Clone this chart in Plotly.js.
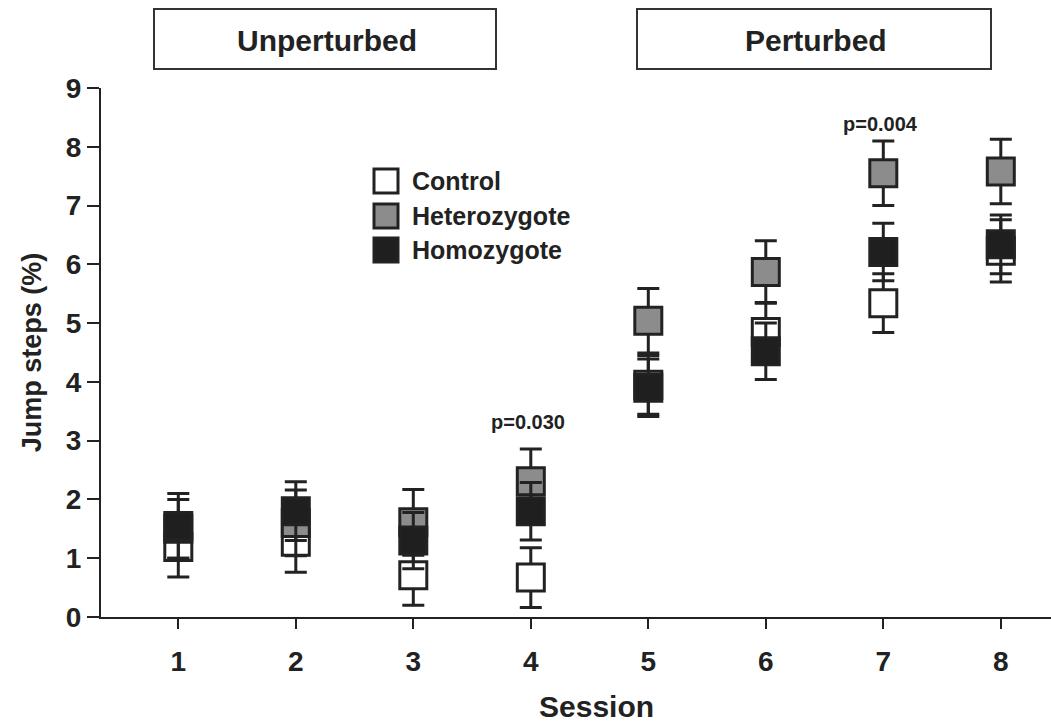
<!DOCTYPE html>
<html>
<head>
<meta charset="utf-8">
<script src="https://cdn.plot.ly/plotly-3.0.1.min.js"></script>
<style>html,body{margin:0;padding:0;background:#fff;}</style>
</head>
<body>
<div id="chart" style="width:1051px;height:727px;"></div>
<script>
// ---- data ----
const sessions = [1, 2, 3, 4, 5, 6, 7, 8];
const sessionLabels = ['1', '2', '3', '4', '5', '6', '7', '8'];
const controlMean = [1.19, 1.28, 0.71, 0.67, 3.95, 4.85, 5.34, 6.23];
const controlErr  = [0.51, 0.52, 0.51, 0.51, 0.50, 0.50, 0.50, 0.53];
const heteroMean  = [1.50, 1.60, 1.61, 2.31, 5.04, 5.87, 7.55, 7.58];
const heteroErr   = [0.50, 0.56, 0.56, 0.55, 0.55, 0.53, 0.55, 0.55];
const homoMean    = [1.55, 1.80, 1.30, 1.80, 3.90, 4.52, 6.21, 6.34];
const homoErr     = [0.55, 0.50, 0.48, 0.49, 0.49, 0.48, 0.49, 0.50];
const seriesNames = ['Control', 'Heterozygote', 'Homozygote'];
const yTicks = [0, 1, 2, 3, 4, 5, 6, 7, 8, 9];
const pValueSessions = [4, 7];
const pValueLabels = ['p=0.030', 'p=0.004'];
const pValueY = [3.31, 8.39];
const phaseLabels = ['Unperturbed', 'Perturbed'];
const xTitle = 'Session';
const yTitle = 'Jump steps (%)';

// ---- styling / geometry ----
const W = 1051, H = 727;
const M = {l: 101, r: 0, t: 88, b: 110};
const pw = W - M.l - M.r, ph = H - M.t - M.b;
const px2x = p => (p - M.l) / pw;
const px2y = p => (H - M.b - p) / ph;
const stepPx = 117.5, firstPx = 178.3;
const x0 = 1 - (firstPx - M.l) / stepPx;
const x1 = x0 + pw / stepPx;

const FONT = '"Liberation Sans", Arial, Helvetica, sans-serif';
const INK = '#222222';
const fills = ['#ffffff', '#8c8c8c', '#1f1f1f'];

function makeTrace(name, y, e, fill) {
  return {
    type: 'scatter', mode: 'markers', name: name,
    x: sessions, y: y,
    error_y: {type: 'data', array: e, visible: true, color: INK, thickness: 3, width: 11},
    marker: {symbol: 'square', size: 27, color: fill, line: {color: INK, width: 3}},
    cliponaxis: false, showlegend: false
  };
}

const data = [
  makeTrace(seriesNames[0], controlMean, controlErr, fills[0]),
  makeTrace(seriesNames[1], heteroMean, heteroErr, fills[1]),
  makeTrace(seriesNames[2], homoMean, homoErr, fills[2])
];

const shapes = [];
const annotations = [];

// phase header boxes
const phaseBoxes = [[154, 9, 496, 69], [637, 9, 991, 69]];
phaseBoxes.forEach((b, i) => {
  shapes.push({type: 'rect', xref: 'paper', yref: 'paper',
    x0: px2x(b[0]), x1: px2x(b[2]), y0: px2y(b[3]), y1: px2y(b[1]),
    line: {color: '#333', width: 2}, fillcolor: 'rgba(0,0,0,0)'});
  annotations.push({xref: 'paper', yref: 'paper',
    x: px2x((b[0] + b[2]) / 2 + 2), y: px2y((b[1] + b[3]) / 2 + 1),
    xanchor: 'center', yanchor: 'middle', showarrow: false,
    text: phaseLabels[i],
    font: {family: FONT, size: 30, weight: 'bold', color: INK}});
});

// legend
const legTop = [168, 203, 237];
seriesNames.forEach((n, i) => {
  shapes.push({type: 'rect', xref: 'paper', yref: 'paper',
    x0: px2x(374), x1: px2x(398), y0: px2y(legTop[i] + 25), y1: px2y(legTop[i] + 1),
    line: {color: INK, width: 3}, fillcolor: fills[i]});
  annotations.push({xref: 'paper', yref: 'paper',
    x: px2x(410), y: px2y(legTop[i] + 13),
    xanchor: 'left', yanchor: 'middle', showarrow: false,
    text: n, font: {family: FONT, size: 25, weight: 'bold', color: INK}});
});

// p-values
pValueSessions.forEach((s, i) => {
  annotations.push({xref: 'x', yref: 'y', x: s - 0.02, y: pValueY[i],
    xanchor: 'center', yanchor: 'middle', showarrow: false,
    text: pValueLabels[i],
    font: {family: FONT, size: 20, weight: 'bold', color: INK}});
});

// x-axis title (placed as text centred where the reference puts it)
annotations.push({xref: 'paper', yref: 'paper', x: px2x(596), y: px2y(724),
  xanchor: 'center', yanchor: 'bottom', showarrow: false, borderpad: 0,
  text: xTitle, font: {family: FONT, size: 30, weight: 'bold', color: INK}});

const axisCommon = {
  showline: true, linewidth: 2, linecolor: INK,
  ticks: 'outside', tickwidth: 2, tickcolor: INK,
  showgrid: false, zeroline: false,
  tickfont: {family: FONT, size: 28, weight: 'bold', color: INK},
  fixedrange: true
};

const layout = {
  width: W, height: H,
  margin: M,
  paper_bgcolor: '#ffffff', plot_bgcolor: '#ffffff',
  showlegend: false,
  font: {family: FONT, color: INK},
  xaxis: Object.assign({}, axisCommon, {
    range: [x0, x1], tickmode: 'array', tickvals: sessions, ticktext: sessionLabels,
    ticklen: 10, ticklabelstandoff: 8
  }),
  yaxis: Object.assign({}, axisCommon, {
    range: [0, 9], tickmode: 'array', tickvals: yTicks, ticktext: yTicks.map(String),
    ticklen: 12, ticklabelstandoff: 0,
    title: {text: yTitle, font: {family: FONT, size: 27, weight: 'bold', color: INK}, standoff: 16}
  }),
  shapes: shapes,
  annotations: annotations
};

Plotly.newPlot('chart', data, layout, {staticPlot: true, displayModeBar: false});
</script>
</body>
</html>
